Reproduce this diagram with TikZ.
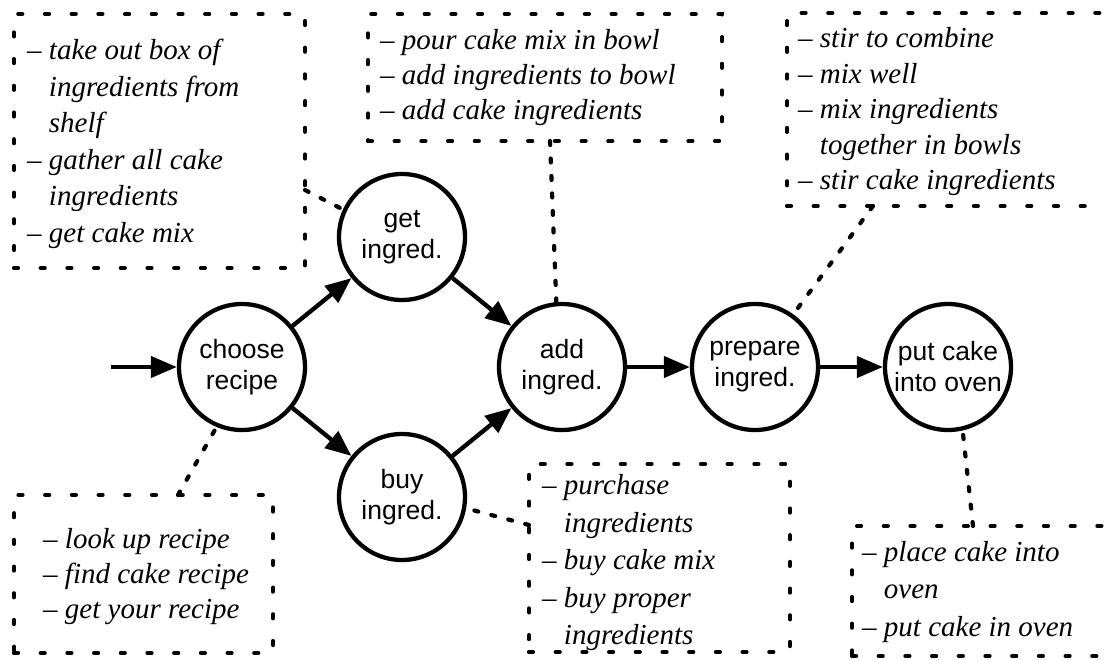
\documentclass[tikz,border=0pt]{standalone}
\usepackage{fontspec}
\setmainfont{Liberation Serif}
\newfontfamily\stagefont{Liberation Sans}
\usetikzlibrary{arrows.meta}

\begin{document}
\begin{tikzpicture}[x=1pt,y=-1pt,
  stage/.style={circle, draw, line width=4.3pt, minimum size=126pt, inner sep=0pt,
    align=center, font=\stagefont\fontsize{26.5}{31}\selectfont},
  notebox/.style={draw, line width=4.2pt, line cap=round, dash pattern=on 4pt off 22.7pt,
    anchor=north west, inner sep=0pt, outer sep=0pt},
  notetext/.style={anchor=west, align=left, inner sep=0pt,
    font=\fontsize{29}{36}\selectfont\itshape},
  flow/.style={line width=4.3pt, -{Triangle[length=26pt,width=21pt]}},
  link/.style={line width=4.2pt, line cap=round, dash pattern=on 4pt off 13.5pt}]

\useasboundingbox (0,0) rectangle (1105,659);
\clip (0,0) rectangle (1105,659);

% dashed note frames
\node[notebox, minimum width=291pt, minimum height=254pt] (b1) at (14,14) {};
\node[notebox, minimum width=354pt, minimum height=127pt] (b2) at (368,14) {};
\node[notebox, minimum width=340pt, minimum height=193pt] (b3) at (787,13) {};
\node[notebox, minimum width=259pt, minimum height=158pt] (b4) at (14,495) {};
\node[notebox, minimum width=261pt, minimum height=188pt] (b5) at (529,464) {};
\node[notebox, minimum width=300pt, minimum height=130pt] (b6) at (852,526) {};

% note texts
\newcommand{\ind}{\hphantom{– }}
\node[notetext, font=\fontsize{29}{36.5}\selectfont\itshape] (t1) at (27,144)
  {– take out box of\\\ind ingredients from\\\ind shelf\\– gather all cake\\\ind ingredients\\– get cake mix};
\node[notetext, font=\fontsize{29}{35}\selectfont\itshape] (t2) at (380,78)
  {– pour cake mix in bowl\\– add ingredients to bowl\\– add cake ingredients};
\node[notetext, font=\fontsize{29}{35.5}\selectfont\itshape] (t3) at (798,112)
  {– stir to combine\\– mix well\\– mix ingredients\\\ind together in bowls\\– stir cake ingredients};
\node[notetext, font=\fontsize{29}{35}\selectfont\itshape] (t4) at (43,577)
  {– look up recipe\\– find cake recipe\\– get your recipe};
\node[notetext, font=\fontsize{29}{37.5}\selectfont\itshape] (t5) at (542,563)
  {– purchase\\\ind ingredients\\– buy cake mix\\– buy proper\\\ind ingredients};
\node[notetext, font=\fontsize{29}{37.5}\selectfont\itshape] (t6) at (862,592)
  {– place cake into\\\ind oven\\– put cake in oven};

% process stages
\node[stage] (choose)  at (242,367) {choose\\recipe};
\node[stage] (get)     at (402,237) {get\\ingred.};
\node[stage] (buy)     at (402,497) {buy\\ingred.};
\node[stage] (add)     at (562,367) {add\\ingred.};
\node[stage] (prepare) at (755,367) {prepare\\ingred.};
\node[stage] (put)     at (948,367) {put cake\\into oven};

% connector ends on the frames
\coordinate (start) at (111,367);
\coordinate (k1) at (305,190);
\coordinate (k2) at (550,141);
\coordinate (k3) at (873,206);
\coordinate (k4) at (178,495);
\coordinate (k5) at (529,525);
\coordinate (k6) at (973,526);

% flow arrows
\draw[flow] (start) -- (choose);
\draw[flow] (choose) -- (get);
\draw[flow] (choose) -- (buy);
\draw[flow] (get) -- (add);
\draw[flow] (buy) -- (add);
\draw[flow] (add) -- (prepare);
\draw[flow] (prepare) -- (put);

% dotted links from notes to stages
\draw[link] (k1) -- (get.155);
\draw[link] (k2) -- (add.95);
\draw[link] (k3) -- (prepare.54);
\draw[link] (k4) -- (choose.-113);
\draw[link] (k5) -- (buy.-10);
\draw[link] (k6) -- (put.-77);
\end{tikzpicture}
\end{document}
